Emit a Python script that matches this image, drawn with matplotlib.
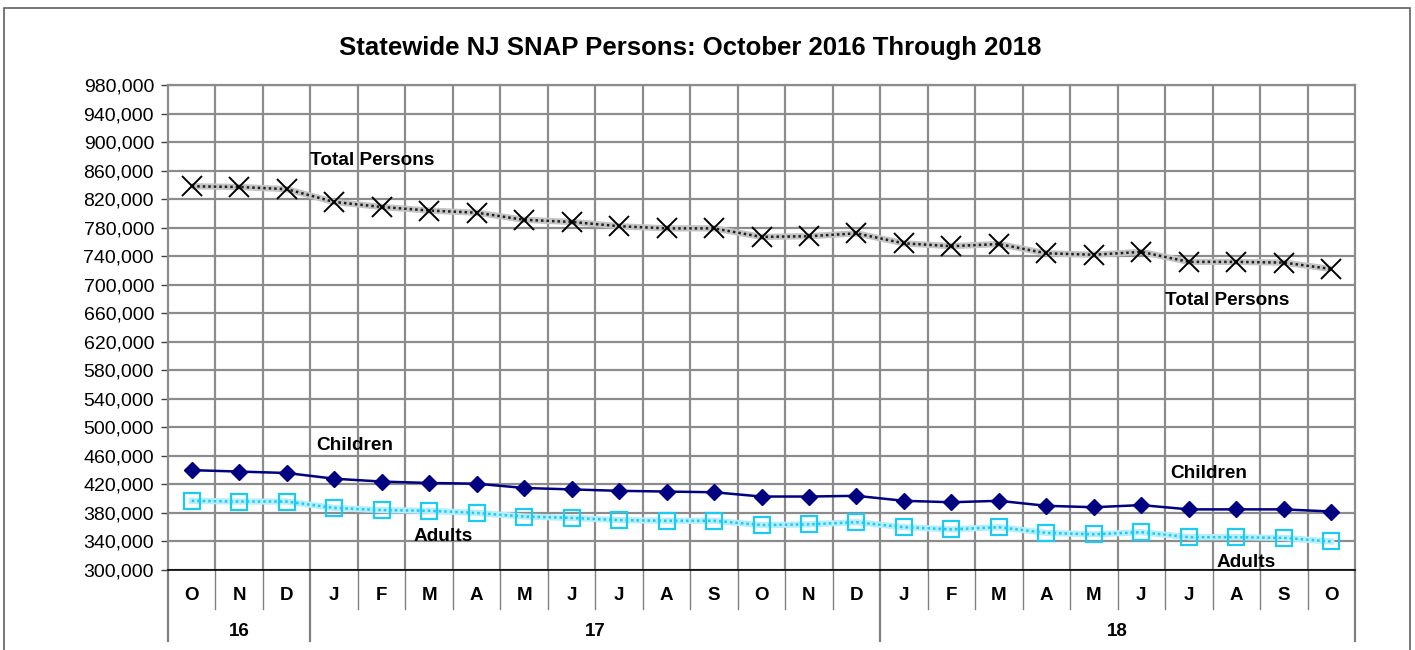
import matplotlib
matplotlib.use("Agg")
import matplotlib.pyplot as plt
import matplotlib.transforms as mtransforms
from matplotlib.patches import Rectangle
from matplotlib.ticker import FuncFormatter

plt.rcParams['font.family'] = ['Liberation Sans', 'DejaVu Sans']

months = ["O", "N", "D", "J", "F", "M", "A", "M", "J", "J", "A", "S",
          "O", "N", "D", "J", "F", "M", "A", "M", "J", "J", "A", "S", "O"]
years = ["16", "17", "18"]
year_spans = [(0, 3), (3, 15), (15, 25)]
y_ticks = list(range(300000, 980001, 40000))

total = [838000, 837000, 834000, 816000, 809000, 804000, 801000, 791000, 788000,
         782000, 779000, 779000, 767000, 768000, 772000, 758000, 754000, 757000,
         744000, 742000, 746000, 732000, 732000, 731000, 722000]
children = [440000, 438000, 436000, 428000, 424000, 422000, 421000, 415000, 413000,
            411000, 410000, 409000, 403000, 403000, 404000, 397000, 395000, 397000,
            390000, 388000, 391000, 385000, 385000, 385000, 382000]
adults = [397000, 396000, 396000, 387000, 384000, 383000, 380000, 375000, 373000,
          370000, 369000, 369000, 363000, 364000, 367000, 360000, 357000, 360000,
          352000, 350000, 353000, 346000, 346000, 345000, 340000]

W, H = 1415, 650
fig = plt.figure(figsize=(W / 100, H / 100), dpi=100)
fig.patches.append(Rectangle((4 / W, -0.05), (1410 - 4) / W, 1.05 - 8 / H,
                             transform=fig.transFigure, fill=False,
                             edgecolor='#606060', lw=1.2))

L, R, T, B = 168, 1355, 85, 570
ax = fig.add_axes([L / W, 1 - B / H, (R - L) / W, (B - T) / H])

x = list(range(len(months)))

# Total persons: checkered gray line with X markers
ax.plot(x, total, color='#c4c4c4', lw=4.5, solid_capstyle='butt', zorder=3)
ax.plot(x, total, color='#202020', lw=1.8, linestyle=(0, (1, 1.2)), zorder=4)
ax.plot(x, total, linestyle='none', marker='x', markersize=14,
        markeredgewidth=1.4, color='black', zorder=5)

# Adults: checkered cyan line with hollow squares
ax.plot(x, adults, color='#b4eeff', lw=4.5, zorder=3)
ax.plot(x, adults, color='#22c8f0', lw=1.8, linestyle=(0, (1, 1.2)), zorder=4)
ax.plot(x, adults, linestyle='none', marker='s', markersize=12,
        markerfacecolor='none', markeredgecolor='#1ccaf2',
        markeredgewidth=1.6, zorder=5)

# Children: navy line with diamonds
ax.plot(x, children, color='#000080', lw=1.8, marker='D', markersize=8,
        markerfacecolor='#000080', markeredgecolor='#000080', zorder=6)

ax.set_xlim(-0.5, len(months) - 0.5)
ax.set_ylim(y_ticks[0], y_ticks[-1])
ax.set_yticks(y_ticks)
ax.yaxis.set_major_formatter(FuncFormatter(lambda v, p: f"{int(v):,}"))
ax.tick_params(axis='y', labelsize=14, length=5, width=1, color='#404040', pad=5)

ax.set_xticks([i - 0.5 for i in range(1, len(months))])
ax.tick_params(axis='x', length=0, labelbottom=False)
ax.grid(True, color='#8c8c8c', lw=1.6)
ax.set_axisbelow(True)

for s in ['top', 'right', 'left']:
    ax.spines[s].set_color('#8c8c8c')
    ax.spines[s].set_linewidth(1.6)
ax.spines['bottom'].set_color('black')
ax.spines['bottom'].set_linewidth(1.2)

# Category axis (months and years)
trans = mtransforms.blended_transform_factory(ax.transData, ax.transAxes)
ax_h = B - T
def yax(py):
    return (B - py) / ax_h

for i, m in enumerate(months):
    ax.text(i, yax(596), m, transform=trans, ha='center', va='center',
            fontsize=13.5, fontweight='bold')
year_bounds = set()
for (a, b) in year_spans:
    year_bounds.add(a)
    year_bounds.add(b)
for i in range(len(months) + 1):
    bottom = yax(641) if i in year_bounds else yax(609)
    ax.plot([i - 0.5, i - 0.5], [0, bottom], transform=trans, color='#808080',
            lw=1.6 if i in year_bounds else 1.0, clip_on=False, zorder=1)
for (a, b), yr in zip(year_spans, years):
    ax.text((a + b - 1) / 2, yax(632), yr, transform=trans, ha='center',
            va='center', fontsize=13.5, fontweight='bold')

# Series labels
lbl = dict(fontsize=13.7, fontweight='bold', ha='left', va='center')
ax.text(2.49, 300000 + (570 - 160) * 40000 / 28.53, "Total Persons", **lbl)
ax.text(20.5, 300000 + (570 - 300) * 40000 / 28.53, "Total Persons", **lbl)
ax.text(2.62, 300000 + (570 - 445) * 40000 / 28.53, "Children", **lbl)
ax.text(20.6, 300000 + (570 - 473) * 40000 / 28.53, "Children", **lbl)
ax.text(4.68, 300000 + (570 - 536) * 40000 / 28.53, "Adults", **lbl)
ax.text(21.59, 300000 + (570 - 562) * 40000 / 28.53, "Adults", **lbl)

fig.text(690 / W, 1 - 48 / H, "Statewide NJ SNAP Persons: October 2016 Through 2018",
         ha='center', va='center', fontsize=18.5, fontweight='bold')

fig.savefig("out.png", dpi=100)
